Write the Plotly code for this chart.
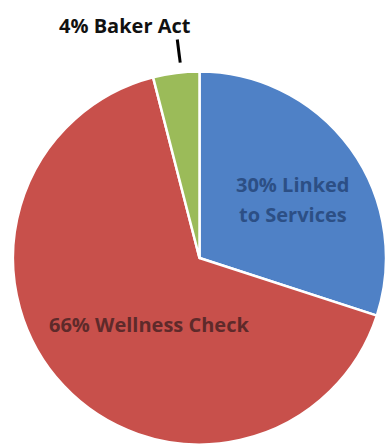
import math
import plotly.graph_objects as go

# Outcome breakdown
labels = ["Linked to Services", "Wellness Check", "Baker Act"]
values = [30, 66, 4]
colors = ["#4f81c6", "#c8504b", "#9bbb59"]

W, H = 386, 445

# pie domain (paper fractions)
dom_x = [13 / W, 1.0]
dom_y = [0.0, 374 / H]

fig = go.Figure(
    go.Pie(
        labels=labels,
        values=values,
        sort=False,
        direction="clockwise",
        rotation=0,
        marker=dict(colors=colors, line=dict(color="white", width=2.5)),
        textinfo="none",
        hoverinfo="label+percent",
        showlegend=False,
        domain=dict(x=dom_x, y=dom_y),
    )
)

# pie geometry in pixels (from top-left) for placing labels
cx = (dom_x[0] + dom_x[1]) / 2 * W
cy = H - (dom_y[0] + dom_y[1]) / 2 * H
r = min((dom_x[1] - dom_x[0]) * W, (dom_y[1] - dom_y[0]) * H) / 2
total = sum(values)


def mid_angle(i):
    start = sum(values[:i]) / total
    return (start + values[i] / total / 2) * 2 * math.pi


def to_paper(px, py):
    return px / W, 1 - py / H


def polar_pt(angle, frac):
    return cx + frac * r * math.sin(angle), cy - frac * r * math.cos(angle)


font_family = "Open Sans"
label_size = 20


def text_note(px, py, text, color, size=label_size):
    x, y = to_paper(px, py)
    return dict(
        x=x, y=y, xref="paper", yref="paper",
        xanchor="center", yanchor="middle",
        text=text, showarrow=False,
        font=dict(family=font_family, size=size, color=color, weight="bold"),
    )


# inside label for the blue slice (two lines)
bx, by = polar_pt(mid_angle(0) + 0.07, 0.59)
# inside label for the red slice
rx, ry = polar_pt(mid_angle(1) - 0.17, 0.45)

annotations = [
    text_note(bx, by - 15, f"{values[0]}% Linked", "#2c4f85"),
    text_note(bx, by + 15, "to Services", "#2c4f85"),
    text_note(rx, ry, f"{values[1]}% {labels[1]}", "#5e2a2a"),
    text_note(125, 25, f"{values[2]}% {labels[2]}", "#111111"),
]

# leader line for the small slice
a = mid_angle(2)
x0, y0 = polar_pt(a, 1.04)
x1, y1 = polar_pt(a, 1.165)
p0 = to_paper(x0 + 5, y0 - 3)
p1 = to_paper(x1 + 5, y1 - 3)
shapes = [
    dict(
        type="line", xref="paper", yref="paper",
        x0=p0[0], y0=p0[1], x1=p1[0], y1=p1[1],
        line=dict(color="black", width=3),
    )
]

fig.update_layout(
    width=W,
    height=H,
    margin=dict(l=0, r=0, t=0, b=0),
    paper_bgcolor="white",
    plot_bgcolor="white",
    annotations=annotations,
    shapes=shapes,
)

fig.write_html("out.html")
